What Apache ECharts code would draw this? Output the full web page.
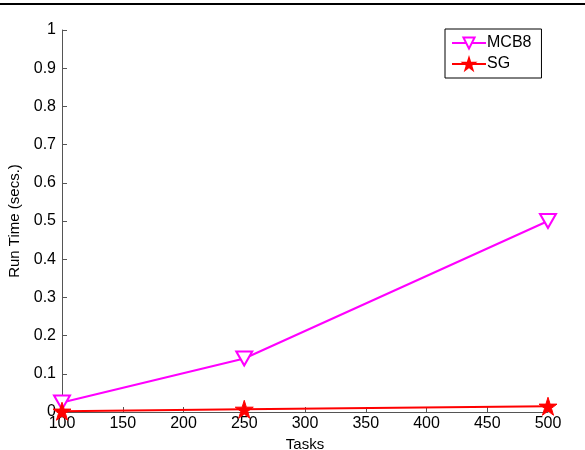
<!DOCTYPE html>
<html><head><meta charset="utf-8">
<script src="https://cdn.jsdelivr.net/npm/echarts@6/dist/echarts.min.js"></script>
<style>html,body{margin:0;padding:0;background:#fff}#c{width:585px;height:450px}</style>
</head><body><div id="c"></div>
<script>
var tasks = [100, 250, 500];
var mcb8 = [0.025, 0.14, 0.5];
var sg = [0.002, 0.007, 0.015];
var xTicks = [100,150,200,250,300,350,400,450,500];
var yTicks = [0,0.1,0.2,0.3,0.4,0.5,0.6,0.7,0.8,0.9,1];

var starPath = 'path://M50,0 L61.8,36.2 L100,36.2 L69.1,58.6 L80.9,95.1 L50,72.7 L19.1,95.1 L30.9,58.6 L0,36.2 L38.2,36.2 Z';
var font = 'Liberation Sans, Arial, Helvetica, sans-serif';
function pairs(xs, ys){ return xs.map(function(x,i){return [x, ys[i]];}); }

var chart = echarts.init(document.getElementById('c'));
chart.setOption({
  animation: false,
  textStyle: {fontFamily: font},
  grid: {left: 62, right: 37, top: 30, bottom: 38, show: false, containLabel: false, outerBoundsMode: 'none'},
  graphic: [{type:'rect', left:0, top:3, shape:{width:585, height:2}, style:{fill:'#000'}}],
  legend: {
    left: 445, top: 29, orient: 'vertical', itemGap: 5, itemWidth: 34, itemHeight: 14,
    borderColor: '#000', borderWidth: 1, backgroundColor: '#fff', padding: [6, 10, 6, 6],
    textStyle: {fontSize: 16, color: '#000', fontFamily: font, padding: [0,0,0,-4]},
    data: ['MCB8', 'SG']
  },
  xAxis: {
    type: 'value', min: 100, max: 500, interval: 50,
    name: 'Tasks', nameLocation: 'middle', nameGap: 24,
    nameTextStyle: {fontSize: 15, color: '#000'},
    axisLine: {show: true, lineStyle: {color: '#555', width: 1}},
    axisTick: {show: true, inside: true, length: 5, lineStyle: {color: '#555'}},
    axisLabel: {fontSize: 16, color: '#000', margin: 4,
      formatter: function(v){ return xTicks.indexOf(v) >= 0 ? String(v) : ''; }},
    splitLine: {show: false}
  },
  yAxis: {
    type: 'value', min: 0, max: 1, interval: 0.1,
    name: 'Run Time (secs.)', nameLocation: 'middle', nameGap: 36,
    nameTextStyle: {fontSize: 15, color: '#000'},
    axisLine: {show: true, lineStyle: {color: '#555', width: 1}},
    axisTick: {show: true, inside: true, length: 5, lineStyle: {color: '#555'}},
    axisLabel: {fontSize: 16, color: '#000', margin: 6,
      formatter: function(v){ var r = Math.round(v*10)/10; return yTicks.indexOf(r) >= 0 ? String(r) : ''; }},
    splitLine: {show: false}
  },
  series: [
    {name: 'MCB8', type: 'line', data: pairs(tasks, mcb8),
     symbol: 'triangle', symbolRotate: 180, symbolSize: [16, 14], showAllSymbol: true,
     lineStyle: {color: '#ff00ff', width: 2},
     itemStyle: {color: '#fff', borderColor: '#ff00ff', borderWidth: 2}},
    {name: 'SG', type: 'line', data: pairs(tasks, sg),
     symbol: starPath, symbolSize: 18, showAllSymbol: true,
     lineStyle: {color: '#ff0000', width: 2},
     itemStyle: {color: '#ff0000', borderColor: '#ff0000', borderWidth: 1}}
  ]
});
</script></body></html>
